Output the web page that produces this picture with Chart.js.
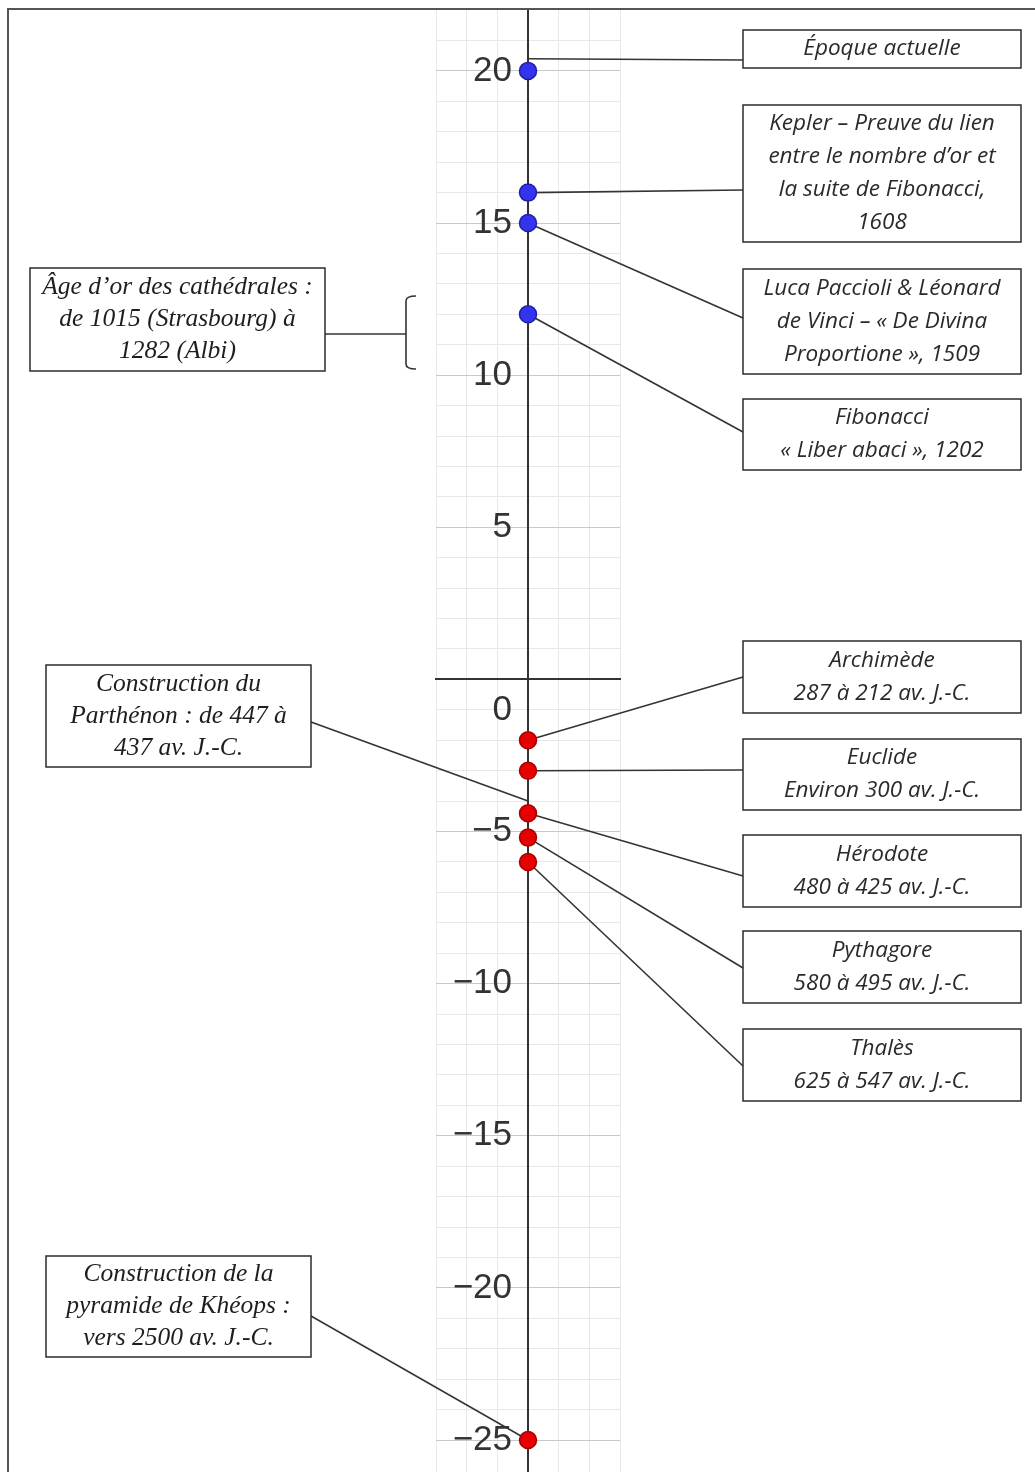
<!DOCTYPE html>
<html lang="fr">
<head>
<meta charset="utf-8">
<title>Frise chronologique</title>
<script src="https://cdn.jsdelivr.net/npm/chart.js@4.4.1/dist/chart.umd.min.js"></script>
<style>
  html, body { margin: 0; padding: 0; background: #fff; }
  #wrap { width: 1035px; height: 1472px; }
</style>
</head>
<body>
<div id="wrap"><canvas id="timeline"></canvas></div>
<script>
// siècles : 20 = époque actuelle, négatif = av. J.-C.
const modernCenturies = [20, 16, 15, 12];
const ancientCenturies = [-2, -3, -4.4, -5.2, -6, -25];
const yMin = -26.05;
const yMax = 22.33;
const labelStep = 5;

// encadrés de droite
const rightTexts = [
  ['Époque actuelle'],
  ['Kepler – Preuve du lien', 'entre le nombre d’or et', 'la suite de Fibonacci,', '1608'],
  ['Luca Paccioli & Léonard', 'de Vinci – « De Divina', 'Proportione », 1509'],
  ['Fibonacci', '« Liber abaci », 1202'],
  ['Archimède', '287 à 212 av. J.-C.'],
  ['Euclide', 'Environ 300 av. J.-C.'],
  ['Hérodote', '480 à 425 av. J.-C.'],
  ['Pythagore', '580 à 495 av. J.-C.'],
  ['Thalès', '625 à 547 av. J.-C.']
];
const rightAnchors = [20.4, 16, 15, 12, -2, -3, -4.4, -5.2, -6];

// encadrés de gauche
const leftTexts = [
  ['Âge d’or des cathédrales :', 'de 1015 (Strasbourg) à', '1282 (Albi)'],
  ['Construction du', 'Parthénon : de 447 à', '437 av. J.-C.'],
  ['Construction de la', 'pyramide de Khéops :', 'vers 2500 av. J.-C.']
];
const cathedralSpan = [10.2, 12.6];
const leftAnchors = [null, -4, -25];

// mise en page des encadrés (pixels)
const rightBox = { left: 743, right: 1021 };
const rightTop = [30, 105, 269, 399, 641, 739, 835, 931, 1029];
const rightBottom = [68, 242, 374, 470, 713, 810, 907, 1003, 1101];
const rightLinkY = [60, 190, 318, 432, 677, 770, 876, 968, 1066];
const leftLeft = [30, 46, 46];
const leftRight = [325, 311, 311];
const leftTop = [268, 665, 1256];
const leftBottom = [371, 767, 1357];
const leftLinkY = [334, 722, 1316];

function isWhole(v) { return Math.abs(v - Math.round(v)) < 1e-6; }

function drawBox(ctx, x1, y1, x2, y2, lines, font, lh, color) {
  ctx.save();
  ctx.fillStyle = '#fff';
  ctx.fillRect(x1, y1, x2 - x1, y2 - y1);
  ctx.strokeStyle = '#2b2b2b';
  ctx.lineWidth = 1.5;
  ctx.strokeRect(x1, y1, x2 - x1, y2 - y1);
  ctx.fillStyle = color;
  ctx.font = font;
  ctx.textAlign = 'center';
  ctx.textBaseline = 'middle';
  const cx = (x1 + x2) / 2;
  const cy = (y1 + y2) / 2;
  const start = cy - (lines.length - 1) * lh / 2;
  lines.forEach((t, i) => ctx.fillText(t, cx, start + i * lh));
  ctx.restore();
}

function seg(ctx, x1, y1, x2, y2) {
  ctx.beginPath();
  ctx.moveTo(x1, y1);
  ctx.lineTo(x2, y2);
  ctx.stroke();
}

// pas de marge réservée pour les étiquettes : la grille couvre toute la hauteur
function noPadding(scale) {
  scale.paddingTop = 0;
  scale.paddingBottom = 0;
  scale.paddingLeft = 0;
  scale.paddingRight = 0;
}

const annotations = {
  id: 'annotations',
  beforeDatasetsDraw(chart) {
    const ctx = chart.ctx;
    const xs = chart.scales.x;
    const ys = chart.scales.y;
    const ax = xs.getPixelForValue(0);
    ctx.save();
    ctx.strokeStyle = '#333';
    ctx.lineWidth = 1.6;
    rightAnchors.forEach((v, i) => {
      seg(ctx, ax, ys.getPixelForValue(v), rightBox.left, rightLinkY[i]);
    });
    leftAnchors.forEach((v, i) => {
      if (v === null) return;
      seg(ctx, leftRight[i], leftLinkY[i], ax, ys.getPixelForValue(v));
    });
    // accolade des cathédrales
    const bx = 406;
    const bTop = ys.getPixelForValue(cathedralSpan[1]);
    const bBot = ys.getPixelForValue(cathedralSpan[0]);
    seg(ctx, leftRight[0], leftLinkY[0], bx, leftLinkY[0]);
    ctx.beginPath();
    ctx.moveTo(416, bTop);
    ctx.quadraticCurveTo(bx, bTop, bx, bTop + 5);
    ctx.lineTo(bx, bBot - 5);
    ctx.quadraticCurveTo(bx, bBot, 416, bBot);
    ctx.stroke();
    // étiquette du zéro, décalée sous l'axe
    ctx.fillStyle = '#333';
    ctx.font = '35px "Liberation Sans", Arial, sans-serif';
    ctx.textAlign = 'right';
    ctx.textBaseline = 'middle';
    ctx.fillText('0', ax - 16, ys.getPixelForValue(0) + 31);
    ctx.restore();
  },
  afterDraw(chart) {
    const ctx = chart.ctx;
    rightTexts.forEach((lines, i) => {
      drawBox(ctx, rightBox.left, rightTop[i], rightBox.right, rightBottom[i], lines,
        'italic 22.5px "Open Sans", sans-serif', 33, '#2a2a2a');
    });
    leftTexts.forEach((lines, i) => {
      drawBox(ctx, leftLeft[i], leftTop[i], leftRight[i], leftBottom[i], lines,
        'italic 25.5px "Liberation Serif", serif', 32, '#1e1e1e');
    });
    // cadre (rien au-dessus du bord supérieur)
    ctx.save();
    ctx.fillStyle = '#fff';
    ctx.fillRect(0, 0, chart.width, 8);
    ctx.strokeStyle = '#555';
    ctx.lineWidth = 2;
    ctx.beginPath();
    ctx.moveTo(1035, 9);
    ctx.lineTo(8, 9);
    ctx.lineTo(8, 1472);
    ctx.stroke();
    ctx.restore();
  }
};

new Chart(document.getElementById('timeline'), {
  type: 'scatter',
  data: {
    datasets: [{
      label: 'Après J.-C.',
      data: modernCenturies.map(v => ({ x: 0, y: v })),
      backgroundColor: '#3434ee',
      borderColor: '#1f1fa8',
      borderWidth: 1.5,
      pointRadius: 8.5
    }, {
      label: 'Avant J.-C.',
      data: ancientCenturies.map(v => ({ x: 0, y: v })),
      backgroundColor: '#e60000',
      borderColor: '#a80000',
      borderWidth: 1.5,
      pointRadius: 8.5
    }]
  },
  options: {
    responsive: true,
    maintainAspectRatio: false,
    animation: false,
    layout: { autoPadding: false, padding: { left: 436, right: 415, top: 0, bottom: 0 } },
    plugins: { legend: { display: false }, tooltip: { enabled: false } },
    scales: {
      x: {
        type: 'linear',
        min: -3,
        max: 3,
        position: { y: 0 },
        afterFit: noPadding,
        ticks: { display: false, stepSize: 1 },
        grid: {
          drawTicks: false,
          color: ctx => (ctx.tick && ctx.tick.value === 0) ? 'rgba(0,0,0,0)' : '#e8e8e8'
        },
        border: { color: '#333', width: 2 }
      },
      y: {
        type: 'linear',
        min: yMin,
        max: yMax,
        position: 'center',
        afterFit: noPadding,
        ticks: {
          stepSize: 1,
          autoSkip: false,
          padding: 16,
          color: '#333',
          font: { family: '"Liberation Sans", Arial, sans-serif', size: 35 },
          callback: v => (isWhole(v) && Math.round(v) % labelStep === 0 && Math.round(v) !== 0)
            ? String(Math.round(v)).replace('-', '\u2212') : ''
        },
        grid: {
          drawTicks: false,
          color: ctx => {
            const v = ctx.tick ? ctx.tick.value : 0.5;
            if (!isWhole(v) || Math.round(v) === 0) return 'rgba(0,0,0,0)';
            return Math.round(v) % labelStep === 0 ? '#c9c9c9' : '#e8e8e8';
          }
        },
        border: { color: '#333', width: 2 }
      }
    }
  },
  plugins: [annotations]
});
</script>
</body>
</html>
